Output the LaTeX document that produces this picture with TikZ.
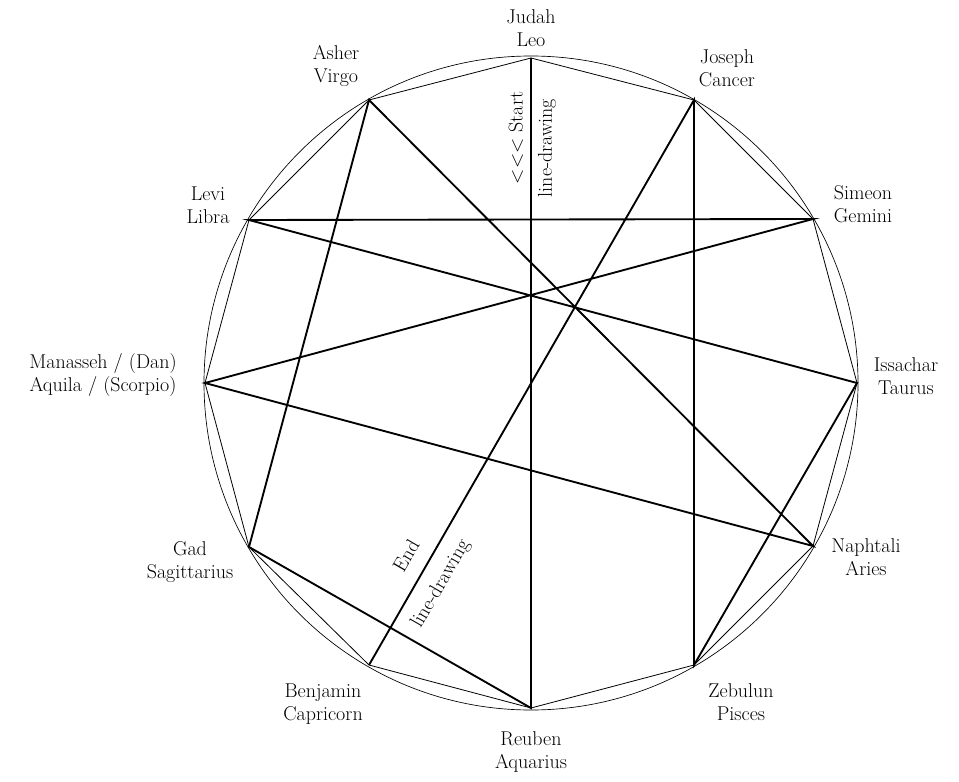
\documentclass[tikz,border=0pt]{standalone}
\usepackage{tikz}
\begin{document}
\begin{tikzpicture}[x=0.75pt,y=-0.75pt]
\tikzstyle{every node}+=[inner sep=0pt, align=center, font=\fontsize{15}{17}\selectfont]
\tikzstyle{star}=[black, line width=1.4pt]
\useasboundingbox (0,0) rectangle (959,781);
\draw [black, line width=0.5pt] (531,383) circle (327);
% points of the twelve
\coordinate (judah) at (531,58);
\coordinate (joseph) at (694,100);
\coordinate (simeon) at (813,219);
\coordinate (issachar) at (857,383);
\coordinate (naphtali) at (813,546);
\coordinate (zebulun) at (694,665);
\coordinate (reuben) at (531,708);
\coordinate (benjamin) at (369,665);
\coordinate (gad) at (249,547);
\coordinate (manasseh) at (205,383);
\coordinate (levi) at (249,220);
\coordinate (asher) at (369,100);
\draw [black, line width=0.6pt] (judah) -- (joseph) -- (simeon) -- (issachar) -- (naphtali) -- (zebulun) -- (reuben) -- (benjamin) -- (gad) -- (manasseh) -- (levi) -- (asher) -- cycle;
\draw [star] (judah) -- (reuben) -- (gad) -- (asher) -- (naphtali) -- (manasseh) -- (simeon) -- (levi) -- (issachar) -- (zebulun) -- (joseph) -- (benjamin);
% labels
\node (Ljudah) at (531,28) {Judah\\Leo};
\node (Ljoseph) at (727,68) {Joseph\\Cancer};
\node (Lsimeon) at (863,204) {Simeon\\Gemini};
\node (Lissachar) at (906,376) {Issachar\\Taurus};
\node (Lnaphtali) at (866,557) {Naphtali\\Aries};
\node (Lzebulun) at (741,702) {Zebulun\\Pisces};
\node (Lreuben) at (531,752) {Reuben\\Aquarius};
\node (Lbenjamin) at (323,704) {Benjamin\\Capricorn};
\node (Lgad) at (190,562) {Gad\\Sagittarius};
\node (Lmanasseh) at (103,375) {Manasseh / (Dan)\\Aquila / (Scorpio)};
\node (Llevi) at (208,205) {Levi\\Libra};
\node (Lasher) at (336,66) {Asher\\Virgo};
\node (Lstart) at (516,138) [rotate=90] {<\kern0pt<\kern0pt< Start};
\node (Lstartb) at (547,148) [rotate=90] {line-drawing};
\node (Lend) at (406,556) [rotate=60] {End};
\node (Lendb) at (441,584) [rotate=60] {line-drawing};
\end{tikzpicture}
\end{document}
